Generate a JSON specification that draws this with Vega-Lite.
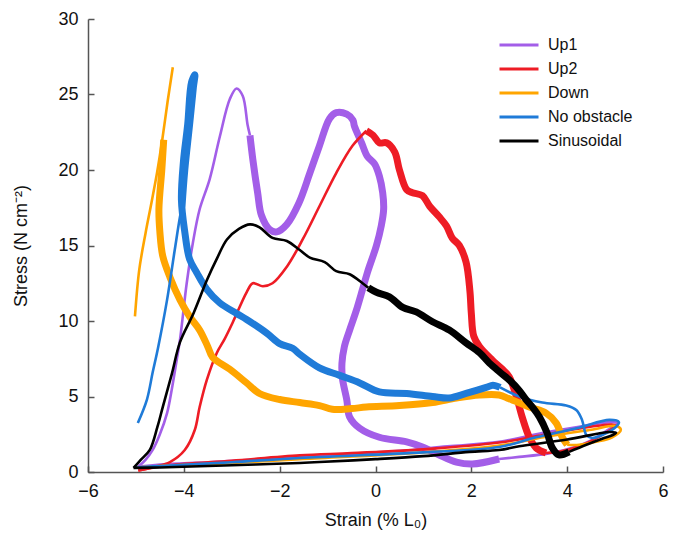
{
  "$schema": "https://vega.github.io/schema/vega-lite/v6.json",
  "width": 575,
  "height": 453,
  "autosize": "none",
  "padding": {"left": 88, "top": 19, "right": 20, "bottom": 65},
  "background": "white",
  "config": {
    "font": "Liberation Sans",
    "view": {"stroke": null},
    "axis": {"grid": false, "domainColor": "#555", "domainWidth": 1.5, "tickColor": "#555", "tickWidth": 1.5, "labelColor": "#111", "titleColor": "#111", "labelFontSize": 18, "titleFontSize": 18, "titleFontWeight": "normal"}
  },
  "data": {"values": [
    {"s":"Up1","g":"Up1a","p":"rest","i":0,"x":-4.95,"y":0.35},{"s":"Up1","g":"Up1a","p":"rest","i":1,"x":-4.8,"y":0.8},{"s":"Up1","g":"Up1a","p":"rest","i":2,"x":-4.65,"y":1.46},{"s":"Up1","g":"Up1a","p":"rest","i":3,"x":-4.5,"y":2.5},{"s":"Up1","g":"Up1a","p":"rest","i":4,"x":-4.35,"y":3.9},{"s":"Up1","g":"Up1a","p":"rest","i":5,"x":-4.25,"y":5.5},{"s":"Up1","g":"Up1a","p":"rest","i":6,"x":-4.15,"y":7.4},{"s":"Up1","g":"Up1a","p":"rest","i":7,"x":-4.08,"y":8.76},{"s":"Up1","g":"Up1a","p":"rest","i":8,"x":-3.94,"y":12.5},{"s":"Up1","g":"Up1a","p":"rest","i":9,"x":-3.81,"y":15.2},{"s":"Up1","g":"Up1a","p":"rest","i":10,"x":-3.67,"y":17.4},{"s":"Up1","g":"Up1a","p":"rest","i":11,"x":-3.46,"y":19.4},{"s":"Up1","g":"Up1a","p":"rest","i":12,"x":-3.25,"y":22.2},{"s":"Up1","g":"Up1a","p":"rest","i":13,"x":-3.04,"y":24.7},{"s":"Up1","g":"Up1a","p":"rest","i":14,"x":-2.9,"y":25.4},{"s":"Up1","g":"Up1a","p":"rest","i":15,"x":-2.77,"y":24.9},{"s":"Up1","g":"Up1a","p":"rest","i":16,"x":-2.67,"y":23.0},{"s":"Up1","g":"Up1a","p":"rest","i":17,"x":-2.62,"y":22.3},
    {"s":"Up1","g":"Up1b","p":"stim","i":0,"x":-2.62,"y":22.3},{"s":"Up1","g":"Up1b","p":"stim","i":1,"x":-2.56,"y":20.7},{"s":"Up1","g":"Up1b","p":"stim","i":2,"x":-2.46,"y":18.5},{"s":"Up1","g":"Up1b","p":"stim","i":3,"x":-2.38,"y":17.0},{"s":"Up1","g":"Up1b","p":"stim","i":4,"x":-2.21,"y":16.06},{"s":"Up1","g":"Up1b","p":"stim","i":5,"x":-2.06,"y":15.9},{"s":"Up1","g":"Up1b","p":"stim","i":6,"x":-1.85,"y":16.4},{"s":"Up1","g":"Up1b","p":"stim","i":7,"x":-1.6,"y":17.8},{"s":"Up1","g":"Up1b","p":"stim","i":8,"x":-1.37,"y":19.8},{"s":"Up1","g":"Up1b","p":"stim","i":9,"x":-1.17,"y":21.6},{"s":"Up1","g":"Up1b","p":"stim","i":10,"x":-0.96,"y":23.4},{"s":"Up1","g":"Up1b","p":"stim","i":11,"x":-0.82,"y":23.8},{"s":"Up1","g":"Up1b","p":"stim","i":12,"x":-0.6,"y":23.7},{"s":"Up1","g":"Up1b","p":"stim","i":13,"x":-0.47,"y":23.3},{"s":"Up1","g":"Up1b","p":"stim","i":14,"x":-0.44,"y":22.9},{"s":"Up1","g":"Up1b","p":"stim","i":15,"x":-0.29,"y":21.8},{"s":"Up1","g":"Up1b","p":"stim","i":16,"x":-0.17,"y":20.9},{"s":"Up1","g":"Up1b","p":"stim","i":17,"x":-0.02,"y":20.4},{"s":"Up1","g":"Up1b","p":"stim","i":18,"x":0.08,"y":19.6},{"s":"Up1","g":"Up1b","p":"stim","i":19,"x":0.15,"y":18.5},{"s":"Up1","g":"Up1b","p":"stim","i":20,"x":0.17,"y":17.4},{"s":"Up1","g":"Up1b","p":"stim","i":21,"x":0.12,"y":16.3},{"s":"Up1","g":"Up1b","p":"stim","i":22,"x":0.02,"y":15.0},{"s":"Up1","g":"Up1b","p":"stim","i":23,"x":-0.17,"y":13.2},{"s":"Up1","g":"Up1b","p":"stim","i":24,"x":-0.27,"y":12.1},{"s":"Up1","g":"Up1b","p":"stim","i":25,"x":-0.4,"y":10.7},{"s":"Up1","g":"Up1b","p":"stim","i":26,"x":-0.54,"y":9.4},{"s":"Up1","g":"Up1b","p":"stim","i":27,"x":-0.65,"y":8.3},{"s":"Up1","g":"Up1b","p":"stim","i":28,"x":-0.7,"y":7.2},{"s":"Up1","g":"Up1b","p":"stim","i":29,"x":-0.69,"y":6.2},{"s":"Up1","g":"Up1b","p":"stim","i":30,"x":-0.6,"y":4.8},{"s":"Up1","g":"Up1b","p":"stim","i":31,"x":-0.54,"y":3.65},{"s":"Up1","g":"Up1b","p":"stim","i":32,"x":-0.33,"y":2.9},{"s":"Up1","g":"Up1b","p":"stim","i":33,"x":0.08,"y":2.3},{"s":"Up1","g":"Up1b","p":"stim","i":34,"x":0.65,"y":2.0},{"s":"Up1","g":"Up1b","p":"stim","i":35,"x":0.98,"y":1.66},{"s":"Up1","g":"Up1b","p":"stim","i":36,"x":1.33,"y":1.13},{"s":"Up1","g":"Up1b","p":"stim","i":37,"x":1.69,"y":0.66},{"s":"Up1","g":"Up1b","p":"stim","i":38,"x":2.02,"y":0.53},{"s":"Up1","g":"Up1b","p":"stim","i":39,"x":2.58,"y":0.86},
    {"s":"Up1","g":"Up1c","p":"rest","i":0,"x":2.58,"y":0.86},{"s":"Up1","g":"Up1c","p":"rest","i":1,"x":3.0,"y":1.0},{"s":"Up1","g":"Up1c","p":"rest","i":2,"x":3.56,"y":1.2},{"s":"Up1","g":"Up1c","p":"rest","i":3,"x":4.0,"y":1.5},{"s":"Up1","g":"Up1c","p":"rest","i":4,"x":4.5,"y":2.1},{"s":"Up1","g":"Up1c","p":"rest","i":5,"x":4.9,"y":2.9},{"s":"Up1","g":"Up1c","p":"rest","i":6,"x":5.05,"y":3.25},{"s":"Up1","g":"Up1c","p":"rest","i":7,"x":4.9,"y":3.3},{"s":"Up1","g":"Up1c","p":"rest","i":8,"x":4.25,"y":3.0},{"s":"Up1","g":"Up1c","p":"rest","i":9,"x":3.5,"y":2.6},{"s":"Up1","g":"Up1c","p":"rest","i":10,"x":2.58,"y":2.0},{"s":"Up1","g":"Up1c","p":"rest","i":11,"x":1.5,"y":1.7},{"s":"Up1","g":"Up1c","p":"rest","i":12,"x":0.5,"y":1.4},{"s":"Up1","g":"Up1c","p":"rest","i":13,"x":-0.5,"y":1.2},{"s":"Up1","g":"Up1c","p":"rest","i":14,"x":-1.58,"y":1.0},{"s":"Up1","g":"Up1c","p":"rest","i":15,"x":-2.5,"y":0.82},{"s":"Up1","g":"Up1c","p":"rest","i":16,"x":-3.5,"y":0.65},{"s":"Up1","g":"Up1c","p":"rest","i":17,"x":-4.5,"y":0.5},{"s":"Up1","g":"Up1c","p":"rest","i":18,"x":-4.95,"y":0.35},

    {"s":"Up2","g":"Up2a","p":"rest","i":0,"x":-4.95,"y":0.1},{"s":"Up2","g":"Up2a","p":"rest","i":1,"x":-4.6,"y":0.35},{"s":"Up2","g":"Up2a","p":"rest","i":2,"x":-4.29,"y":0.66},{"s":"Up2","g":"Up2a","p":"rest","i":3,"x":-3.98,"y":1.46},{"s":"Up2","g":"Up2a","p":"rest","i":4,"x":-3.77,"y":2.8},{"s":"Up2","g":"Up2a","p":"rest","i":5,"x":-3.67,"y":4.3},{"s":"Up2","g":"Up2a","p":"rest","i":6,"x":-3.52,"y":6.1},{"s":"Up2","g":"Up2a","p":"rest","i":7,"x":-3.31,"y":7.9},{"s":"Up2","g":"Up2a","p":"rest","i":8,"x":-3.15,"y":8.8},{"s":"Up2","g":"Up2a","p":"rest","i":9,"x":-2.98,"y":9.9},{"s":"Up2","g":"Up2a","p":"rest","i":10,"x":-2.69,"y":11.9},{"s":"Up2","g":"Up2a","p":"rest","i":11,"x":-2.56,"y":12.5},{"s":"Up2","g":"Up2a","p":"rest","i":12,"x":-2.35,"y":12.3},{"s":"Up2","g":"Up2a","p":"rest","i":13,"x":-2.15,"y":12.5},{"s":"Up2","g":"Up2a","p":"rest","i":14,"x":-1.85,"y":13.6},{"s":"Up2","g":"Up2a","p":"rest","i":15,"x":-1.52,"y":15.4},{"s":"Up2","g":"Up2a","p":"rest","i":16,"x":-1.17,"y":17.6},{"s":"Up2","g":"Up2a","p":"rest","i":17,"x":-0.82,"y":19.8},{"s":"Up2","g":"Up2a","p":"rest","i":18,"x":-0.48,"y":21.6},{"s":"Up2","g":"Up2a","p":"rest","i":19,"x":-0.19,"y":22.6},
    {"s":"Up2","g":"Up2b","p":"stim","i":0,"x":-0.19,"y":22.6},{"s":"Up2","g":"Up2b","p":"stim","i":1,"x":-0.05,"y":22.3},{"s":"Up2","g":"Up2b","p":"stim","i":2,"x":0.08,"y":21.8},{"s":"Up2","g":"Up2b","p":"stim","i":3,"x":0.23,"y":21.8},{"s":"Up2","g":"Up2b","p":"stim","i":4,"x":0.4,"y":21.2},{"s":"Up2","g":"Up2b","p":"stim","i":5,"x":0.5,"y":20.0},{"s":"Up2","g":"Up2b","p":"stim","i":6,"x":0.65,"y":18.7},{"s":"Up2","g":"Up2b","p":"stim","i":7,"x":0.77,"y":18.5},{"s":"Up2","g":"Up2b","p":"stim","i":8,"x":0.98,"y":18.3},{"s":"Up2","g":"Up2b","p":"stim","i":9,"x":1.13,"y":17.6},{"s":"Up2","g":"Up2b","p":"stim","i":10,"x":1.33,"y":16.9},{"s":"Up2","g":"Up2b","p":"stim","i":11,"x":1.48,"y":16.3},{"s":"Up2","g":"Up2b","p":"stim","i":12,"x":1.6,"y":15.5},{"s":"Up2","g":"Up2b","p":"stim","i":13,"x":1.75,"y":15.0},{"s":"Up2","g":"Up2b","p":"stim","i":14,"x":1.89,"y":13.9},{"s":"Up2","g":"Up2b","p":"stim","i":15,"x":1.97,"y":12.0},{"s":"Up2","g":"Up2b","p":"stim","i":16,"x":2.0,"y":10.5},{"s":"Up2","g":"Up2b","p":"stim","i":17,"x":2.05,"y":9.0},{"s":"Up2","g":"Up2b","p":"stim","i":18,"x":2.17,"y":8.3},{"s":"Up2","g":"Up2b","p":"stim","i":19,"x":2.44,"y":7.4},{"s":"Up2","g":"Up2b","p":"stim","i":20,"x":2.65,"y":6.8},{"s":"Up2","g":"Up2b","p":"stim","i":21,"x":2.79,"y":6.3},{"s":"Up2","g":"Up2b","p":"stim","i":22,"x":2.94,"y":5.0},{"s":"Up2","g":"Up2b","p":"stim","i":23,"x":3.06,"y":3.65},{"s":"Up2","g":"Up2b","p":"stim","i":24,"x":3.21,"y":2.3},{"s":"Up2","g":"Up2b","p":"stim","i":25,"x":3.35,"y":1.6},{"s":"Up2","g":"Up2b","p":"stim","i":26,"x":3.56,"y":1.26},
    {"s":"Up2","g":"Up2c","p":"rest","i":0,"x":3.56,"y":1.26},{"s":"Up2","g":"Up2c","p":"rest","i":1,"x":3.85,"y":1.35},{"s":"Up2","g":"Up2c","p":"rest","i":2,"x":4.2,"y":1.65},{"s":"Up2","g":"Up2c","p":"rest","i":3,"x":4.7,"y":2.4},{"s":"Up2","g":"Up2c","p":"rest","i":4,"x":5.0,"y":3.1},{"s":"Up2","g":"Up2c","p":"rest","i":5,"x":4.6,"y":3.05},{"s":"Up2","g":"Up2c","p":"rest","i":6,"x":3.5,"y":2.45},{"s":"Up2","g":"Up2c","p":"rest","i":7,"x":2.58,"y":1.95},{"s":"Up2","g":"Up2c","p":"rest","i":8,"x":1.0,"y":1.5},{"s":"Up2","g":"Up2c","p":"rest","i":9,"x":-0.5,"y":1.25},{"s":"Up2","g":"Up2c","p":"rest","i":10,"x":-1.58,"y":1.1},{"s":"Up2","g":"Up2c","p":"rest","i":11,"x":-3.0,"y":0.75},{"s":"Up2","g":"Up2c","p":"rest","i":12,"x":-4.3,"y":0.45},{"s":"Up2","g":"Up2c","p":"rest","i":13,"x":-4.95,"y":0.1},

    {"s":"Down","g":"Downa","p":"stim","i":0,"x":-4.42,"y":22.0},{"s":"Down","g":"Downa","p":"stim","i":1,"x":-4.46,"y":20.0},{"s":"Down","g":"Downa","p":"stim","i":2,"x":-4.52,"y":17.4},{"s":"Down","g":"Downa","p":"stim","i":3,"x":-4.5,"y":15.9},{"s":"Down","g":"Downa","p":"stim","i":4,"x":-4.44,"y":14.3},{"s":"Down","g":"Downa","p":"stim","i":5,"x":-4.29,"y":12.9},{"s":"Down","g":"Downa","p":"stim","i":6,"x":-4.08,"y":11.4},{"s":"Down","g":"Downa","p":"stim","i":7,"x":-3.88,"y":10.3},{"s":"Down","g":"Downa","p":"stim","i":8,"x":-3.67,"y":9.4},{"s":"Down","g":"Downa","p":"stim","i":9,"x":-3.5,"y":8.3},{"s":"Down","g":"Downa","p":"stim","i":10,"x":-3.4,"y":7.6},{"s":"Down","g":"Downa","p":"stim","i":11,"x":-3.04,"y":6.8},{"s":"Down","g":"Downa","p":"stim","i":12,"x":-2.69,"y":5.9},{"s":"Down","g":"Downa","p":"stim","i":13,"x":-2.42,"y":5.2},{"s":"Down","g":"Downa","p":"stim","i":14,"x":-2.0,"y":4.8},{"s":"Down","g":"Downa","p":"stim","i":15,"x":-1.58,"y":4.6},{"s":"Down","g":"Downa","p":"stim","i":16,"x":-1.17,"y":4.4},{"s":"Down","g":"Downa","p":"stim","i":17,"x":-0.9,"y":4.15},{"s":"Down","g":"Downa","p":"stim","i":18,"x":-0.5,"y":4.2},{"s":"Down","g":"Downa","p":"stim","i":19,"x":-0.19,"y":4.3},{"s":"Down","g":"Downa","p":"stim","i":20,"x":0.5,"y":4.4},{"s":"Down","g":"Downa","p":"stim","i":21,"x":1.19,"y":4.6},{"s":"Down","g":"Downa","p":"stim","i":22,"x":1.69,"y":4.9},{"s":"Down","g":"Downa","p":"stim","i":23,"x":2.17,"y":5.1},{"s":"Down","g":"Downa","p":"stim","i":24,"x":2.58,"y":5.1},{"s":"Down","g":"Downa","p":"stim","i":25,"x":2.79,"y":4.85},{"s":"Down","g":"Downa","p":"stim","i":26,"x":3.21,"y":4.3},{"s":"Down","g":"Downa","p":"stim","i":27,"x":3.56,"y":3.9},{"s":"Down","g":"Downa","p":"stim","i":28,"x":3.77,"y":3.25},{"s":"Down","g":"Downa","p":"stim","i":29,"x":3.9,"y":2.3},{"s":"Down","g":"Downa","p":"stim","i":30,"x":4.0,"y":1.8},
    {"s":"Down","g":"Downb","p":"rest","i":0,"x":4.0,"y":1.8},{"s":"Down","g":"Downb","p":"rest","i":1,"x":4.25,"y":1.8},{"s":"Down","g":"Downb","p":"rest","i":2,"x":4.6,"y":2.0},{"s":"Down","g":"Downb","p":"rest","i":3,"x":4.94,"y":2.3},{"s":"Down","g":"Downb","p":"rest","i":4,"x":5.12,"y":2.8},{"s":"Down","g":"Downb","p":"rest","i":5,"x":5.02,"y":3.05},{"s":"Down","g":"Downb","p":"rest","i":6,"x":4.5,"y":2.8},{"s":"Down","g":"Downb","p":"rest","i":7,"x":3.5,"y":2.3},{"s":"Down","g":"Downb","p":"rest","i":8,"x":2.58,"y":1.75},{"s":"Down","g":"Downb","p":"rest","i":9,"x":1.0,"y":1.3},{"s":"Down","g":"Downb","p":"rest","i":10,"x":-1.58,"y":0.85},{"s":"Down","g":"Downb","p":"rest","i":11,"x":-3.0,"y":0.6},{"s":"Down","g":"Downb","p":"rest","i":12,"x":-4.5,"y":0.4},{"s":"Down","g":"Downb","p":"rest","i":13,"x":-5.0,"y":0.3},
    {"s":"Down","g":"Downc","p":"rest","i":0,"x":-5.02,"y":10.3},{"s":"Down","g":"Downc","p":"rest","i":1,"x":-4.93,"y":13.4},{"s":"Down","g":"Downc","p":"rest","i":2,"x":-4.8,"y":15.8},{"s":"Down","g":"Downc","p":"rest","i":3,"x":-4.69,"y":17.6},{"s":"Down","g":"Downc","p":"rest","i":4,"x":-4.56,"y":19.8},{"s":"Down","g":"Downc","p":"rest","i":5,"x":-4.45,"y":22.0},{"s":"Down","g":"Downc","p":"rest","i":6,"x":-4.34,"y":24.5},{"s":"Down","g":"Downc","p":"rest","i":7,"x":-4.23,"y":26.8},

    {"s":"No obstacle","g":"NoObsa","p":"rest","i":0,"x":-4.96,"y":3.25},{"s":"No obstacle","g":"NoObsa","p":"rest","i":1,"x":-4.77,"y":4.8},{"s":"No obstacle","g":"NoObsa","p":"rest","i":2,"x":-4.65,"y":6.6},{"s":"No obstacle","g":"NoObsa","p":"rest","i":3,"x":-4.54,"y":8.2},{"s":"No obstacle","g":"NoObsa","p":"rest","i":4,"x":-4.35,"y":11.4},{"s":"No obstacle","g":"NoObsa","p":"rest","i":5,"x":-4.19,"y":14.7},{"s":"No obstacle","g":"NoObsa","p":"rest","i":6,"x":-4.08,"y":16.9},{"s":"No obstacle","g":"NoObsa","p":"rest","i":7,"x":-4.04,"y":17.5},
    {"s":"No obstacle","g":"NoObsb","p":"stim","i":0,"x":-4.04,"y":17.5},{"s":"No obstacle","g":"NoObsb","p":"stim","i":1,"x":-3.98,"y":20.0},{"s":"No obstacle","g":"NoObsb","p":"stim","i":2,"x":-3.88,"y":23.0},{"s":"No obstacle","g":"NoObsb","p":"stim","i":3,"x":-3.8,"y":25.5},{"s":"No obstacle","g":"NoObsb","p":"stim","i":4,"x":-3.77,"y":26.3},{"s":"No obstacle","g":"NoObsb","p":"stim","i":5,"x":-3.84,"y":25.8},{"s":"No obstacle","g":"NoObsb","p":"stim","i":6,"x":-3.92,"y":23.0},{"s":"No obstacle","g":"NoObsb","p":"stim","i":7,"x":-4.01,"y":20.5},{"s":"No obstacle","g":"NoObsb","p":"stim","i":8,"x":-4.05,"y":18.0},{"s":"No obstacle","g":"NoObsb","p":"stim","i":9,"x":-3.98,"y":15.9},{"s":"No obstacle","g":"NoObsb","p":"stim","i":10,"x":-3.88,"y":14.1},{"s":"No obstacle","g":"NoObsb","p":"stim","i":11,"x":-3.73,"y":13.2},{"s":"No obstacle","g":"NoObsb","p":"stim","i":12,"x":-3.52,"y":12.1},{"s":"No obstacle","g":"NoObsb","p":"stim","i":13,"x":-3.25,"y":11.2},{"s":"No obstacle","g":"NoObsb","p":"stim","i":14,"x":-2.9,"y":10.5},{"s":"No obstacle","g":"NoObsb","p":"stim","i":15,"x":-2.69,"y":10.1},{"s":"No obstacle","g":"NoObsb","p":"stim","i":16,"x":-2.27,"y":9.2},{"s":"No obstacle","g":"NoObsb","p":"stim","i":17,"x":-2.0,"y":8.5},{"s":"No obstacle","g":"NoObsb","p":"stim","i":18,"x":-1.73,"y":8.2},{"s":"No obstacle","g":"NoObsb","p":"stim","i":19,"x":-1.58,"y":7.8},{"s":"No obstacle","g":"NoObsb","p":"stim","i":20,"x":-1.17,"y":6.9},{"s":"No obstacle","g":"NoObsb","p":"stim","i":21,"x":-0.75,"y":6.4},{"s":"No obstacle","g":"NoObsb","p":"stim","i":22,"x":-0.33,"y":5.9},{"s":"No obstacle","g":"NoObsb","p":"stim","i":23,"x":0.08,"y":5.3},{"s":"No obstacle","g":"NoObsb","p":"stim","i":24,"x":0.65,"y":5.2},{"s":"No obstacle","g":"NoObsb","p":"stim","i":25,"x":1.19,"y":5.0},{"s":"No obstacle","g":"NoObsb","p":"stim","i":26,"x":1.54,"y":4.9},{"s":"No obstacle","g":"NoObsb","p":"stim","i":27,"x":1.89,"y":5.2},{"s":"No obstacle","g":"NoObsb","p":"stim","i":28,"x":2.31,"y":5.6},{"s":"No obstacle","g":"NoObsb","p":"stim","i":29,"x":2.45,"y":5.75},{"s":"No obstacle","g":"NoObsb","p":"stim","i":30,"x":2.6,"y":5.6},
    {"s":"No obstacle","g":"NoObsc","p":"rest","i":0,"x":2.6,"y":5.6},{"s":"No obstacle","g":"NoObsc","p":"rest","i":1,"x":3.0,"y":5.0},{"s":"No obstacle","g":"NoObsc","p":"rest","i":2,"x":3.48,"y":4.6},{"s":"No obstacle","g":"NoObsc","p":"rest","i":3,"x":3.98,"y":4.4},{"s":"No obstacle","g":"NoObsc","p":"rest","i":4,"x":4.19,"y":4.1},{"s":"No obstacle","g":"NoObsc","p":"rest","i":5,"x":4.31,"y":3.45},{"s":"No obstacle","g":"NoObsc","p":"rest","i":6,"x":4.4,"y":2.45},{"s":"No obstacle","g":"NoObsc","p":"rest","i":7,"x":4.52,"y":2.25},{"s":"No obstacle","g":"NoObsc","p":"rest","i":8,"x":4.73,"y":2.45},{"s":"No obstacle","g":"NoObsc","p":"rest","i":9,"x":5.02,"y":3.0},{"s":"No obstacle","g":"NoObsc","p":"rest","i":10,"x":5.08,"y":3.3},{"s":"No obstacle","g":"NoObsc","p":"rest","i":11,"x":4.88,"y":3.45},{"s":"No obstacle","g":"NoObsc","p":"rest","i":12,"x":4.2,"y":2.9},{"s":"No obstacle","g":"NoObsc","p":"rest","i":13,"x":3.35,"y":2.3},{"s":"No obstacle","g":"NoObsc","p":"rest","i":14,"x":2.58,"y":1.65},{"s":"No obstacle","g":"NoObsc","p":"rest","i":15,"x":1.0,"y":1.3},{"s":"No obstacle","g":"NoObsc","p":"rest","i":16,"x":-1.58,"y":0.93},{"s":"No obstacle","g":"NoObsc","p":"rest","i":17,"x":-3.0,"y":0.65},{"s":"No obstacle","g":"NoObsc","p":"rest","i":18,"x":-4.5,"y":0.4},{"s":"No obstacle","g":"NoObsc","p":"rest","i":19,"x":-5.0,"y":0.3},

    {"s":"Sinusoidal","g":"Sina","p":"rest","i":0,"x":-5.05,"y":0.27},{"s":"Sinusoidal","g":"Sina","p":"rest","i":1,"x":-4.9,"y":0.8},{"s":"Sinusoidal","g":"Sina","p":"rest","i":2,"x":-4.71,"y":1.46},{"s":"Sinusoidal","g":"Sina","p":"rest","i":3,"x":-4.55,"y":3.0},{"s":"Sinusoidal","g":"Sina","p":"rest","i":4,"x":-4.44,"y":4.3},{"s":"Sinusoidal","g":"Sina","p":"rest","i":5,"x":-4.25,"y":6.5},{"s":"Sinusoidal","g":"Sina","p":"rest","i":6,"x":-4.08,"y":8.6},{"s":"Sinusoidal","g":"Sina","p":"rest","i":7,"x":-3.8,"y":10.5},{"s":"Sinusoidal","g":"Sina","p":"rest","i":8,"x":-3.52,"y":12.7},{"s":"Sinusoidal","g":"Sina","p":"rest","i":9,"x":-3.3,"y":14.2},{"s":"Sinusoidal","g":"Sina","p":"rest","i":10,"x":-3.1,"y":15.4},{"s":"Sinusoidal","g":"Sina","p":"rest","i":11,"x":-2.85,"y":16.1},{"s":"Sinusoidal","g":"Sina","p":"rest","i":12,"x":-2.62,"y":16.4},{"s":"Sinusoidal","g":"Sina","p":"rest","i":13,"x":-2.42,"y":16.2},{"s":"Sinusoidal","g":"Sina","p":"rest","i":14,"x":-2.15,"y":15.5},{"s":"Sinusoidal","g":"Sina","p":"rest","i":15,"x":-1.85,"y":15.3},{"s":"Sinusoidal","g":"Sina","p":"rest","i":16,"x":-1.58,"y":14.7},{"s":"Sinusoidal","g":"Sina","p":"rest","i":17,"x":-1.37,"y":14.2},{"s":"Sinusoidal","g":"Sina","p":"rest","i":18,"x":-1.06,"y":13.9},{"s":"Sinusoidal","g":"Sina","p":"rest","i":19,"x":-0.82,"y":13.3},{"s":"Sinusoidal","g":"Sina","p":"rest","i":20,"x":-0.54,"y":13.1},{"s":"Sinusoidal","g":"Sina","p":"rest","i":21,"x":-0.27,"y":12.5},{"s":"Sinusoidal","g":"Sina","p":"rest","i":22,"x":-0.15,"y":12.2},
    {"s":"Sinusoidal","g":"Sinb","p":"stim","i":0,"x":-0.15,"y":12.2},{"s":"Sinusoidal","g":"Sinb","p":"stim","i":1,"x":0.02,"y":11.9},{"s":"Sinusoidal","g":"Sinb","p":"stim","i":2,"x":0.29,"y":11.6},{"s":"Sinusoidal","g":"Sinb","p":"stim","i":3,"x":0.57,"y":10.9},{"s":"Sinusoidal","g":"Sinb","p":"stim","i":4,"x":0.85,"y":10.6},{"s":"Sinusoidal","g":"Sinb","p":"stim","i":5,"x":1.19,"y":9.95},{"s":"Sinusoidal","g":"Sinb","p":"stim","i":6,"x":1.54,"y":9.4},{"s":"Sinusoidal","g":"Sinb","p":"stim","i":7,"x":1.89,"y":8.55},{"s":"Sinusoidal","g":"Sinb","p":"stim","i":8,"x":2.17,"y":7.9},{"s":"Sinusoidal","g":"Sinb","p":"stim","i":9,"x":2.38,"y":7.2},{"s":"Sinusoidal","g":"Sinb","p":"stim","i":10,"x":2.6,"y":6.6},{"s":"Sinusoidal","g":"Sinb","p":"stim","i":11,"x":2.79,"y":6.1},{"s":"Sinusoidal","g":"Sinb","p":"stim","i":12,"x":3.0,"y":5.4},{"s":"Sinusoidal","g":"Sinb","p":"stim","i":13,"x":3.14,"y":4.8},{"s":"Sinusoidal","g":"Sinb","p":"stim","i":14,"x":3.3,"y":4.2},{"s":"Sinusoidal","g":"Sinb","p":"stim","i":15,"x":3.42,"y":3.65},{"s":"Sinusoidal","g":"Sinb","p":"stim","i":16,"x":3.58,"y":2.6},{"s":"Sinusoidal","g":"Sinb","p":"stim","i":17,"x":3.69,"y":1.6},{"s":"Sinusoidal","g":"Sinb","p":"stim","i":18,"x":3.83,"y":1.13},{"s":"Sinusoidal","g":"Sinb","p":"stim","i":19,"x":4.04,"y":1.33},
    {"s":"Sinusoidal","g":"Sinc","p":"rest","i":0,"x":4.04,"y":1.33},{"s":"Sinusoidal","g":"Sinc","p":"rest","i":1,"x":4.4,"y":1.8},{"s":"Sinusoidal","g":"Sinc","p":"rest","i":2,"x":4.73,"y":2.2},{"s":"Sinusoidal","g":"Sinc","p":"rest","i":3,"x":4.95,"y":2.45},{"s":"Sinusoidal","g":"Sinc","p":"rest","i":4,"x":5.02,"y":2.6},{"s":"Sinusoidal","g":"Sinc","p":"rest","i":5,"x":4.88,"y":2.65},{"s":"Sinusoidal","g":"Sinc","p":"rest","i":6,"x":4.0,"y":2.15},{"s":"Sinusoidal","g":"Sinc","p":"rest","i":7,"x":3.0,"y":1.7},{"s":"Sinusoidal","g":"Sinc","p":"rest","i":8,"x":2.58,"y":1.46},{"s":"Sinusoidal","g":"Sinc","p":"rest","i":9,"x":1.96,"y":1.33},{"s":"Sinusoidal","g":"Sinc","p":"rest","i":10,"x":1.0,"y":1.05},{"s":"Sinusoidal","g":"Sinc","p":"rest","i":11,"x":0.0,"y":0.85},{"s":"Sinusoidal","g":"Sinc","p":"rest","i":12,"x":-1.17,"y":0.66},{"s":"Sinusoidal","g":"Sinc","p":"rest","i":13,"x":-1.58,"y":0.6},{"s":"Sinusoidal","g":"Sinc","p":"rest","i":14,"x":-2.5,"y":0.5},{"s":"Sinusoidal","g":"Sinc","p":"rest","i":15,"x":-3.5,"y":0.4},{"s":"Sinusoidal","g":"Sinc","p":"rest","i":16,"x":-4.5,"y":0.3},{"s":"Sinusoidal","g":"Sinc","p":"rest","i":17,"x":-5.05,"y":0.27}
  ]},
  "mark": {"type": "line", "strokeJoin": "round", "interpolate": "catmull-rom", "clip": false},
  "encoding": {
    "x": {"field": "x", "type": "quantitative", "scale": {"domain": [-6, 6], "nice": false},
      "axis": {"title": "Strain (% L₀)", "values": [-6, -4, -2, 0, 2, 4, 6], "tickSize": -6, "labelPadding": 16, "titlePadding": 11, "labelFlush": false}},
    "y": {"field": "y", "type": "quantitative", "scale": {"domain": [0, 30], "nice": false},
      "axis": {"title": "Stress (N cm⁻²)", "values": [0, 5, 10, 15, 20, 25, 30], "tickSize": -6, "labelPadding": 16, "titlePadding": 27, "labelFlush": false}},
    "color": {"field": "s", "type": "nominal",
      "scale": {"domain": ["Up1", "Up2", "Down", "No obstacle", "Sinusoidal"], "range": ["#a35ee8", "#ee1c25", "#ffa500", "#1f7bd8", "#000000"]},
      "legend": {"title": null, "orient": "none", "legendX": 423, "legendY": 18, "symbolType": "M-3,0H3", "symbolSize": 169, "symbolStrokeWidth": 3, "labelFontSize": 16, "labelColor": "#111", "labelOffset": 21, "rowPadding": 8, "padding": 0}},
    "strokeWidth": {"field": "p", "type": "nominal", "scale": {"domain": ["rest", "stim"], "range": [2.6, 7]}, "legend": null},
    "detail": {"field": "g", "type": "nominal"},
    "order": {"field": "i", "type": "quantitative"}
  }
}
